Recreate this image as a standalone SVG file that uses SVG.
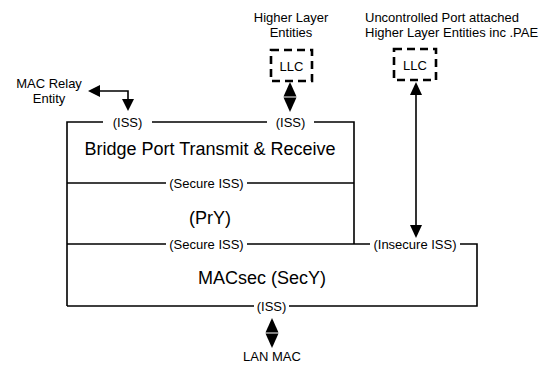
<svg xmlns="http://www.w3.org/2000/svg" width="548" height="366" viewBox="0 0 548 366">
  <style>
    .t { font-family: "Liberation Sans", Arial, sans-serif; fill: #000; }
    .s13 { font-size: 13px; }
    .s18 { font-size: 18px; }
    .mid { text-anchor: middle; }
    .ln { stroke: #000; stroke-width: 1.6; fill: none; }
    .llc { stroke: #000; stroke-width: 2.6; fill: #fff; stroke-dasharray: 8 5; }
    .bg { fill: #fff; }
    .head { fill: #000; }
  </style>

  <!-- free-standing captions -->
  <g id="captions">
    <text class="t s13 mid" x="49" y="88">MAC Relay</text>
    <text class="t s13 mid" x="49" y="103">Entity</text>
    <text class="t s13 mid" x="291" y="22">Higher Layer</text>
    <text class="t s13 mid" x="291" y="37">Entities</text>
    <text class="t s13" x="365" y="22">Uncontrolled Port attached</text>
    <text class="t s13" x="365" y="37">Higher Layer Entities inc .PAE</text>
    <text class="t s13 mid" x="272" y="361">LAN MAC</text>
  </g>

  <!-- layer boxes -->
  <g id="bridge-port">
    <polyline class="ln" points="67,306 67,122 354,122 354,244"/>
    <line class="ln" x1="67" y1="183" x2="354" y2="183"/>
    <text class="t s18 mid" x="210" y="155">Bridge Port Transmit &amp; Receive</text>
  </g>
  <g id="pry">
    <text class="t s18 mid" x="210" y="224">(PrY)</text>
  </g>
  <g id="secy">
    <polyline class="ln" points="67,244 477,244 477,306 67,306"/>
    <text class="t s18 mid" x="262" y="284">MACsec (SecY)</text>
  </g>

  <!-- service interface labels on the box edges -->
  <g id="iss-labels">
    <rect class="bg" x="103" y="115" width="49" height="14"/>
    <text class="t s13 mid" x="127.5" y="126.5">(ISS)</text>
    <rect class="bg" x="267" y="115" width="47" height="14"/>
    <text class="t s13 mid" x="290.5" y="126.5">(ISS)</text>
    <rect class="bg" x="166" y="176" width="81" height="14"/>
    <text class="t s13 mid" x="206.5" y="187.5">(Secure ISS)</text>
    <rect class="bg" x="166" y="237" width="81" height="14"/>
    <text class="t s13 mid" x="206.5" y="248.5">(Secure ISS)</text>
    <rect class="bg" x="370" y="237" width="90" height="14"/>
    <text class="t s13 mid" x="415" y="248.5">(Insecure ISS)</text>
    <rect class="bg" x="254" y="299" width="35" height="14"/>
    <text class="t s13 mid" x="271.5" y="310.5">(ISS)</text>
  </g>

  <!-- LLC entities -->
  <g id="llc-1">
    <rect class="llc" x="271" y="50" width="41" height="31"/>
    <text class="t s13 mid" x="291.5" y="70.5">LLC</text>
  </g>
  <g id="llc-2">
    <rect class="llc" x="394" y="49" width="42" height="31"/>
    <text class="t s13 mid" x="415" y="69.5">LLC</text>
  </g>

  <!-- connectors -->
  <g id="connectors">
    <!-- MAC relay link -->
    <polyline class="ln" points="98,91 128,91 128,101"/>
    <polygon class="head" points="88,91 100,85 100,97"/>
    <polygon class="head" points="128,111 122,99 134,99"/>
    <!-- LLC to bridge port ISS -->
    <polygon class="head" points="290,82 283.5,96.6 296.5,96.6"/>
    <polygon class="head" points="290,112 283.5,97.4 296.5,97.4"/>
    <!-- uncontrolled port LLC to insecure ISS -->
    <line class="ln" x1="416" y1="92" x2="416" y2="228"/>
    <polygon class="head" points="416,82 410,95 422,95"/>
    <polygon class="head" points="416,238 410,225 422,225"/>
    <!-- SecY to LAN MAC -->
    <polygon class="head" points="272,318 265.5,332.6 278.5,332.6"/>
    <polygon class="head" points="272,348 265.5,333.4 278.5,333.4"/>
  </g>
</svg>
